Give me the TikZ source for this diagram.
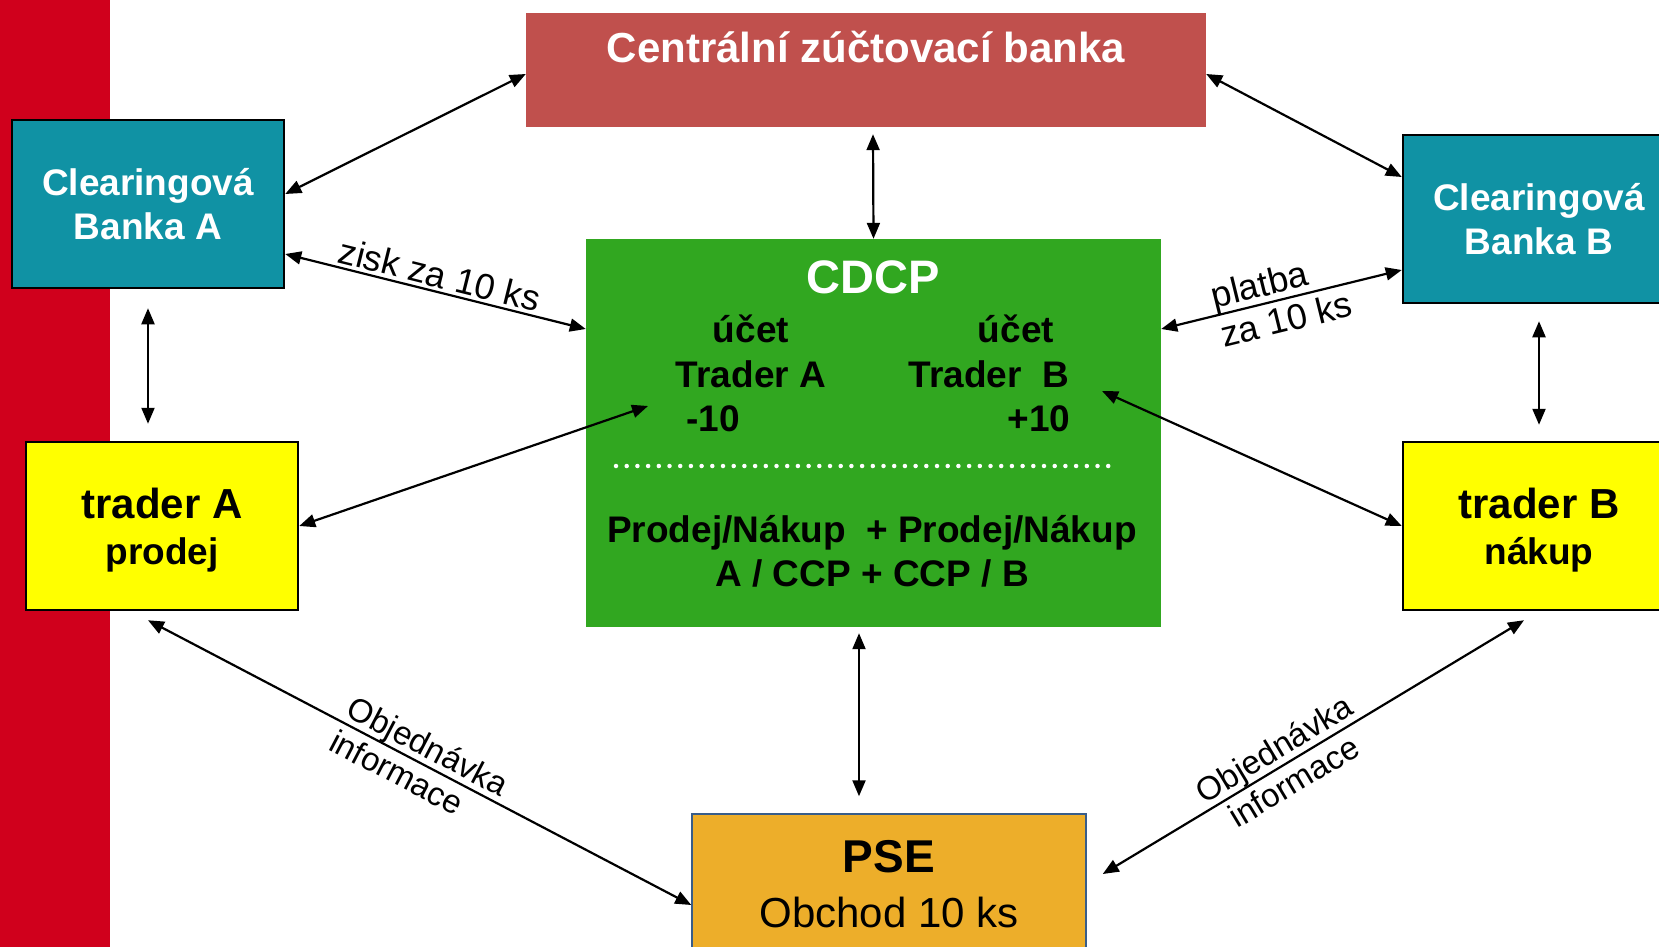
\documentclass[tikz,border=0pt]{standalone}
\usepackage{fontspec}
\setmainfont{Liberation Sans}
\usetikzlibrary{arrows.meta}

\definecolor{bandred}{RGB}{208,0,28}
\definecolor{bankred}{RGB}{192,80,77}
\definecolor{clteal}{RGB}{16,146,164}
\definecolor{ccpgreen}{RGB}{49,167,32}
\definecolor{tryellow}{RGB}{255,255,0}
\definecolor{pseorange}{RGB}{237,174,42}
\definecolor{pseblue}{RGB}{56,93,138}

\tikzset{
  box/.style={draw=black, line width=2.5pt, minimum width=272pt,
              minimum height=168pt, inner sep=0pt, align=center},
  clbox/.style={box, fill=clteal, text=white,
                font=\fontsize{37}{44}\selectfont\bfseries},
  trbox/.style={box, fill=tryellow, text depth=0pt,
                font=\fontsize{37}{46}\selectfont\bfseries},
  dbl/.style={{Triangle[length=16pt,width=13pt]}-{Triangle[length=16pt,width=13pt]},
              line width=2.2pt},
  lbl/.style={font=\fontsize{36}{40}\selectfont, sloped, inner sep=3pt},
  olbl/.style={font=\fontsize{33}{38}\selectfont, sloped, inner sep=0pt},
  acct/.style={font=\fontsize{37}{44}\selectfont\bfseries}
}

\begin{document}
\begin{tikzpicture}[x=1pt,y=-1pt]
  \useasboundingbox (0,0) rectangle (1659,947);
  \clip (0,0) rectangle (1659,947);
  \fill[bandred] (0,0) rectangle (110,947);

  % boxes
  \node[fill=bankred, minimum width=680pt, minimum height=114pt] (cbank) at (866,70) {};
  \node[text=white, font=\fontsize{42}{46}\selectfont\bfseries] (cbanktxt) at (866,47)
        {Centrální zúčtovací banka};
  \node[clbox] (clA) at (148,204) {Clearingová\\Banka A};
  \node[clbox] (clB) at (1539,219) {Clearingová\\Banka B};
  \node[trbox] (trA) at (162,526) {{\fontsize{42}{46}\selectfont trader A}\\prodej};
  \node[trbox] (trB) at (1539,526) {{\fontsize{42}{46}\selectfont trader B}\\nákup};
  \node[fill=ccpgreen, minimum width=575pt, minimum height=388pt] (cdcp) at (873.5,433) {};
  \node[draw=pseblue, line width=1.5pt, fill=pseorange, minimum width=394pt,
        minimum height=140pt, align=center, font=\fontsize{42}{55}\selectfont] (pse) at (889,884)
        {{\fontsize{46}{55}\selectfont\bfseries PSE}\\Obchod 10 ks};

  % inside CDCP
  \node[text=white, font=\fontsize{47}{52}\selectfont\bfseries] (cdcptitle) at (873,277) {CDCP};
  \node[acct] (uctA) at (751,329) {účet};
  \node[acct] (uctB) at (1016,329) {účet};
  \node[acct] (trdA) at (751,374) {Trader A};
  \node[acct] (trdB) at (989,374) {Trader\ \ B};
  \node[acct, anchor=west] (balA) at (683,419) {-10};
  \node[acct, anchor=east] (balB) at (1074,419) {+10};
  \draw[white, line width=4.5pt, line cap=round, dash pattern=on 0pt off 10.7pt]
        (616,466) -- (1109,466);
  \node[acct, align=center] (ops) at (872,551) {Prodej/Nákup\ \ + Prodej/Nákup\\A / CCP + CCP / B};
  \coordinate (accA) at (648,406);
  \coordinate (accB) at (1102,391);

  % connectors
  \draw[dbl] ([yshift=10pt]clA.east) -- ([yshift=-4pt]cbank.west);
  \draw[dbl] ([yshift=-50pt]clA.east) -- node[lbl, above] (zisk) {zisk za 10 ks}
             ([yshift=104pt]cdcp.west);
  \draw[dbl] ([yshift=-19pt]clA.south) -- ([xshift=-14pt,yshift=17pt]trA.north);
  \draw[dbl] ([xshift=7pt,yshift=-7pt]cbank.south) -- (cdcp.north);
  \draw[dbl] ([yshift=-4pt]cbank.east) -- ([yshift=42pt]clB.west);
  \draw[dbl] ([yshift=104pt]cdcp.east) -- node[lbl, align=left, inner sep=0pt] (platba)
             {platba\\za 10 ks} ([yshift=-51pt]clB.west);
  \draw[dbl] ([yshift=-17pt]clB.south) -- ([yshift=16pt]trB.north);
  \draw[dbl] (trA.east) -- (accA);
  \draw[dbl] (trB.west) -- (accB);
  \draw[dbl] ([xshift=-14.5pt,yshift=-6pt]cdcp.south) -- ([xshift=-30pt,yshift=17pt]pse.north);
  \draw[dbl] ([xshift=-14pt,yshift=-9pt]trA.south) -- node[olbl, align=left] (objA)
             {Objednávka\\informace} ([yshift=-21pt]pse.west);
  \draw[dbl] ([xshift=16pt,yshift=10pt]pse.east) -- node[olbl, align=center, pos=0.43] (objB)
             {Objednávka\\informace} ([xshift=-15pt,yshift=-9pt]trB.south);
\end{tikzpicture}
\end{document}
